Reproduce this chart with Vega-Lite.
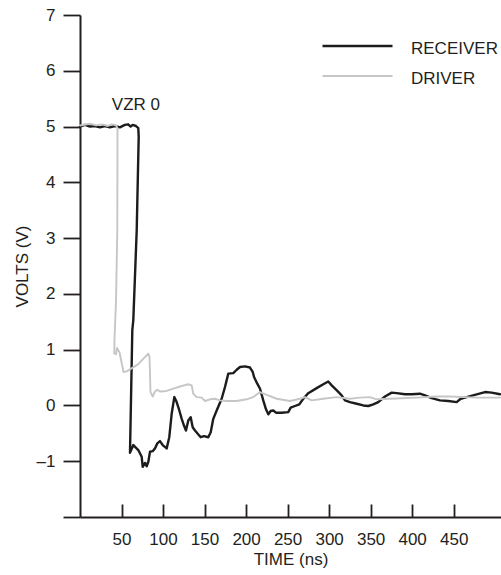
{
  "$schema": "https://vega.github.io/schema/vega-lite/v6.json",
  "autosize": "none",
  "width": 421,
  "height": 502,
  "padding": {"left": 80, "top": 15, "right": 0, "bottom": 58},
  "background": "white",
  "config": {
    "view": {"stroke": null},
    "font": "Liberation Sans",
    "axis": {"labelFont": "Liberation Sans", "titleFont": "Liberation Sans", "labelFontSize": 17, "titleFontSize": 17, "titleFontWeight": "normal", "labelColor": "#231f20", "titleColor": "#231f20", "domainColor": "#231f20", "tickColor": "#231f20", "grid": false}
  },
  "datasets": {
    "curves": [
      {"i": 1, "series": "RECEIVER", "t": 0, "v": 5.0},
      {"i": 2, "series": "RECEIVER", "t": 6, "v": 5.03},
      {"i": 3, "series": "RECEIVER", "t": 12, "v": 5.0},
      {"i": 4, "series": "RECEIVER", "t": 18, "v": 5.01},
      {"i": 5, "series": "RECEIVER", "t": 24, "v": 4.985},
      {"i": 6, "series": "RECEIVER", "t": 30, "v": 5.01},
      {"i": 7, "series": "RECEIVER", "t": 36, "v": 4.985},
      {"i": 8, "series": "RECEIVER", "t": 42, "v": 5.01},
      {"i": 9, "series": "RECEIVER", "t": 48, "v": 4.985},
      {"i": 10, "series": "RECEIVER", "t": 54, "v": 5.03},
      {"i": 11, "series": "RECEIVER", "t": 58, "v": 5.04},
      {"i": 12, "series": "RECEIVER", "t": 61, "v": 5.0},
      {"i": 13, "series": "RECEIVER", "t": 63.5, "v": 5.03},
      {"i": 14, "series": "RECEIVER", "t": 67.4, "v": 5.01},
      {"i": 15, "series": "RECEIVER", "t": 70.2, "v": 4.97},
      {"i": 16, "series": "RECEIVER", "t": 70.7, "v": 4.82},
      {"i": 17, "series": "RECEIVER", "t": 68.3, "v": 3.14},
      {"i": 18, "series": "RECEIVER", "t": 64.2, "v": 1.53},
      {"i": 19, "series": "RECEIVER", "t": 63.0, "v": 1.35},
      {"i": 20, "series": "RECEIVER", "t": 60.2, "v": -0.85},
      {"i": 21, "series": "RECEIVER", "t": 64.2, "v": -0.71},
      {"i": 22, "series": "RECEIVER", "t": 70.2, "v": -0.8},
      {"i": 23, "series": "RECEIVER", "t": 74.3, "v": -0.92},
      {"i": 24, "series": "RECEIVER", "t": 75.5, "v": -1.1},
      {"i": 25, "series": "RECEIVER", "t": 78.3, "v": -1.03},
      {"i": 26, "series": "RECEIVER", "t": 80.3, "v": -1.09},
      {"i": 27, "series": "RECEIVER", "t": 82.3, "v": -1.01},
      {"i": 28, "series": "RECEIVER", "t": 84.3, "v": -0.83},
      {"i": 29, "series": "RECEIVER", "t": 87.5, "v": -0.82},
      {"i": 30, "series": "RECEIVER", "t": 90.3, "v": -0.77},
      {"i": 31, "series": "RECEIVER", "t": 93.1, "v": -0.68},
      {"i": 32, "series": "RECEIVER", "t": 96.3, "v": -0.64},
      {"i": 33, "series": "RECEIVER", "t": 99.6, "v": -0.71},
      {"i": 34, "series": "RECEIVER", "t": 104.4, "v": -0.77},
      {"i": 35, "series": "RECEIVER", "t": 107.5, "v": -0.57},
      {"i": 36, "series": "RECEIVER", "t": 110.4, "v": -0.15},
      {"i": 37, "series": "RECEIVER", "t": 113.6, "v": 0.15},
      {"i": 38, "series": "RECEIVER", "t": 116.4, "v": 0.06},
      {"i": 39, "series": "RECEIVER", "t": 119.6, "v": -0.09},
      {"i": 40, "series": "RECEIVER", "t": 122.5, "v": -0.24},
      {"i": 41, "series": "RECEIVER", "t": 125.2, "v": -0.36},
      {"i": 42, "series": "RECEIVER", "t": 127.6, "v": -0.45},
      {"i": 43, "series": "RECEIVER", "t": 130.4, "v": -0.27},
      {"i": 44, "series": "RECEIVER", "t": 133.3, "v": -0.21},
      {"i": 45, "series": "RECEIVER", "t": 135.7, "v": -0.39},
      {"i": 46, "series": "RECEIVER", "t": 138.5, "v": -0.45},
      {"i": 47, "series": "RECEIVER", "t": 142.5, "v": -0.52},
      {"i": 48, "series": "RECEIVER", "t": 145.4, "v": -0.57},
      {"i": 49, "series": "RECEIVER", "t": 149.3, "v": -0.55},
      {"i": 50, "series": "RECEIVER", "t": 154.5, "v": -0.57},
      {"i": 51, "series": "RECEIVER", "t": 157.4, "v": -0.48},
      {"i": 52, "series": "RECEIVER", "t": 160.5, "v": -0.24},
      {"i": 53, "series": "RECEIVER", "t": 164.6, "v": -0.09},
      {"i": 54, "series": "RECEIVER", "t": 170.6, "v": 0.12},
      {"i": 55, "series": "RECEIVER", "t": 174.6, "v": 0.33},
      {"i": 56, "series": "RECEIVER", "t": 178.6, "v": 0.57},
      {"i": 57, "series": "RECEIVER", "t": 184.6, "v": 0.58},
      {"i": 58, "series": "RECEIVER", "t": 188.7, "v": 0.64},
      {"i": 59, "series": "RECEIVER", "t": 192.7, "v": 0.69},
      {"i": 60, "series": "RECEIVER", "t": 198.7, "v": 0.7},
      {"i": 61, "series": "RECEIVER", "t": 204.7, "v": 0.68},
      {"i": 62, "series": "RECEIVER", "t": 208.0, "v": 0.6},
      {"i": 63, "series": "RECEIVER", "t": 209.6, "v": 0.51},
      {"i": 64, "series": "RECEIVER", "t": 213.5, "v": 0.39},
      {"i": 65, "series": "RECEIVER", "t": 216.8, "v": 0.3},
      {"i": 66, "series": "RECEIVER", "t": 220.7, "v": 0.09},
      {"i": 67, "series": "RECEIVER", "t": 224.0, "v": -0.07},
      {"i": 68, "series": "RECEIVER", "t": 226.8, "v": -0.16},
      {"i": 69, "series": "RECEIVER", "t": 229.6, "v": -0.1},
      {"i": 70, "series": "RECEIVER", "t": 232.8, "v": -0.09},
      {"i": 71, "series": "RECEIVER", "t": 236.0, "v": -0.13},
      {"i": 72, "series": "RECEIVER", "t": 242.9, "v": -0.13},
      {"i": 73, "series": "RECEIVER", "t": 250.8, "v": -0.12},
      {"i": 74, "series": "RECEIVER", "t": 253.7, "v": -0.04},
      {"i": 75, "series": "RECEIVER", "t": 258.9, "v": -0.01},
      {"i": 76, "series": "RECEIVER", "t": 264.1, "v": 0.02},
      {"i": 77, "series": "RECEIVER", "t": 268.9, "v": 0.12},
      {"i": 78, "series": "RECEIVER", "t": 274.9, "v": 0.22},
      {"i": 79, "series": "RECEIVER", "t": 285.0, "v": 0.31},
      {"i": 80, "series": "RECEIVER", "t": 293.0, "v": 0.38},
      {"i": 81, "series": "RECEIVER", "t": 299.0, "v": 0.43},
      {"i": 82, "series": "RECEIVER", "t": 303.1, "v": 0.36},
      {"i": 83, "series": "RECEIVER", "t": 309.9, "v": 0.26},
      {"i": 84, "series": "RECEIVER", "t": 315.1, "v": 0.18},
      {"i": 85, "series": "RECEIVER", "t": 319.1, "v": 0.09},
      {"i": 86, "series": "RECEIVER", "t": 325.1, "v": 0.06},
      {"i": 87, "series": "RECEIVER", "t": 333.2, "v": 0.03},
      {"i": 88, "series": "RECEIVER", "t": 341.2, "v": 0.0},
      {"i": 89, "series": "RECEIVER", "t": 347.2, "v": -0.01},
      {"i": 90, "series": "RECEIVER", "t": 353.2, "v": 0.02},
      {"i": 91, "series": "RECEIVER", "t": 359.2, "v": 0.06},
      {"i": 92, "series": "RECEIVER", "t": 367.3, "v": 0.16},
      {"i": 93, "series": "RECEIVER", "t": 375.4, "v": 0.23},
      {"i": 94, "series": "RECEIVER", "t": 381.4, "v": 0.22},
      {"i": 95, "series": "RECEIVER", "t": 391.4, "v": 0.2},
      {"i": 96, "series": "RECEIVER", "t": 399.4, "v": 0.2},
      {"i": 97, "series": "RECEIVER", "t": 409.4, "v": 0.21},
      {"i": 98, "series": "RECEIVER", "t": 415.5, "v": 0.18},
      {"i": 99, "series": "RECEIVER", "t": 423.5, "v": 0.13},
      {"i": 100, "series": "RECEIVER", "t": 433.5, "v": 0.09},
      {"i": 101, "series": "RECEIVER", "t": 443.5, "v": 0.08},
      {"i": 102, "series": "RECEIVER", "t": 453.6, "v": 0.06},
      {"i": 103, "series": "RECEIVER", "t": 458.5, "v": 0.12},
      {"i": 104, "series": "RECEIVER", "t": 465.7, "v": 0.15},
      {"i": 105, "series": "RECEIVER", "t": 477.7, "v": 0.2},
      {"i": 106, "series": "RECEIVER", "t": 487.7, "v": 0.24},
      {"i": 107, "series": "RECEIVER", "t": 495.8, "v": 0.23},
      {"i": 108, "series": "RECEIVER", "t": 505.8, "v": 0.2},
      {"i": 201, "series": "DRIVER", "t": 0, "v": 5.02},
      {"i": 202, "series": "DRIVER", "t": 12, "v": 5.05},
      {"i": 203, "series": "DRIVER", "t": 19.3, "v": 5.02},
      {"i": 204, "series": "DRIVER", "t": 26.5, "v": 5.04},
      {"i": 205, "series": "DRIVER", "t": 33.7, "v": 5.01},
      {"i": 206, "series": "DRIVER", "t": 38.5, "v": 5.04},
      {"i": 207, "series": "DRIVER", "t": 43.4, "v": 5.02},
      {"i": 208, "series": "DRIVER", "t": 45.2, "v": 4.97},
      {"i": 209, "series": "DRIVER", "t": 44.9, "v": 3.14},
      {"i": 210, "series": "DRIVER", "t": 43.4, "v": 1.89},
      {"i": 211, "series": "DRIVER", "t": 41.5, "v": 1.17},
      {"i": 212, "series": "DRIVER", "t": 41.3, "v": 0.93},
      {"i": 213, "series": "DRIVER", "t": 43.4, "v": 0.92},
      {"i": 214, "series": "DRIVER", "t": 44.6, "v": 1.03},
      {"i": 215, "series": "DRIVER", "t": 47.6, "v": 0.95},
      {"i": 216, "series": "DRIVER", "t": 52.4, "v": 0.6},
      {"i": 217, "series": "DRIVER", "t": 56.2, "v": 0.61},
      {"i": 218, "series": "DRIVER", "t": 70.2, "v": 0.74},
      {"i": 219, "series": "DRIVER", "t": 82.2, "v": 0.93},
      {"i": 220, "series": "DRIVER", "t": 83.7, "v": 0.88},
      {"i": 221, "series": "DRIVER", "t": 84.9, "v": 0.24},
      {"i": 222, "series": "DRIVER", "t": 87.5, "v": 0.16},
      {"i": 223, "series": "DRIVER", "t": 90.3, "v": 0.25},
      {"i": 224, "series": "DRIVER", "t": 93.1, "v": 0.28},
      {"i": 225, "series": "DRIVER", "t": 96.3, "v": 0.25},
      {"i": 226, "series": "DRIVER", "t": 104.4, "v": 0.26},
      {"i": 227, "series": "DRIVER", "t": 112.4, "v": 0.3},
      {"i": 228, "series": "DRIVER", "t": 120.4, "v": 0.34},
      {"i": 229, "series": "DRIVER", "t": 130.4, "v": 0.38},
      {"i": 230, "series": "DRIVER", "t": 134.5, "v": 0.36},
      {"i": 231, "series": "DRIVER", "t": 136.4, "v": 0.21},
      {"i": 232, "series": "DRIVER", "t": 140.5, "v": 0.15},
      {"i": 233, "series": "DRIVER", "t": 146.6, "v": 0.14},
      {"i": 234, "series": "DRIVER", "t": 150.5, "v": 0.08},
      {"i": 235, "series": "DRIVER", "t": 156.6, "v": 0.11},
      {"i": 236, "series": "DRIVER", "t": 162.6, "v": 0.12},
      {"i": 237, "series": "DRIVER", "t": 168.6, "v": 0.09},
      {"i": 238, "series": "DRIVER", "t": 176.7, "v": 0.08},
      {"i": 239, "series": "DRIVER", "t": 188.7, "v": 0.08},
      {"i": 240, "series": "DRIVER", "t": 200.7, "v": 0.11},
      {"i": 241, "series": "DRIVER", "t": 208.7, "v": 0.15},
      {"i": 242, "series": "DRIVER", "t": 216.8, "v": 0.24},
      {"i": 243, "series": "DRIVER", "t": 224.8, "v": 0.19},
      {"i": 244, "series": "DRIVER", "t": 236.9, "v": 0.12},
      {"i": 245, "series": "DRIVER", "t": 252.9, "v": 0.08},
      {"i": 246, "series": "DRIVER", "t": 264.9, "v": 0.12},
      {"i": 247, "series": "DRIVER", "t": 270.9, "v": 0.15},
      {"i": 248, "series": "DRIVER", "t": 279.0, "v": 0.09},
      {"i": 249, "series": "DRIVER", "t": 293.0, "v": 0.12},
      {"i": 250, "series": "DRIVER", "t": 309.1, "v": 0.15},
      {"i": 251, "series": "DRIVER", "t": 325.1, "v": 0.12},
      {"i": 252, "series": "DRIVER", "t": 337.2, "v": 0.14},
      {"i": 253, "series": "DRIVER", "t": 349.2, "v": 0.15},
      {"i": 254, "series": "DRIVER", "t": 357.3, "v": 0.11},
      {"i": 255, "series": "DRIVER", "t": 373.3, "v": 0.12},
      {"i": 256, "series": "DRIVER", "t": 405.5, "v": 0.14},
      {"i": 257, "series": "DRIVER", "t": 429.6, "v": 0.16},
      {"i": 258, "series": "DRIVER", "t": 445.6, "v": 0.16},
      {"i": 259, "series": "DRIVER", "t": 477.7, "v": 0.14},
      {"i": 260, "series": "DRIVER", "t": 505.8, "v": 0.14}
    ],
    "notes": [
      {"t": 67.4, "v": 5.38, "label": "VZR 0"}
    ]
  },
  "layer": [
    {
      "data": {"name": "curves"},
      "mark": {"type": "line", "strokeCap": "round", "strokeJoin": "round", "clip": false},
      "encoding": {
        "x": {
          "field": "t", "type": "quantitative",
          "scale": {"domain": [0, 507], "nice": false, "zero": false},
          "axis": {"values": [50, 100, 150, 200, 250, 300, 350, 400, 450], "title": "TIME (ns)", "tickSize": -13, "tickWidth": 1.8, "domainWidth": 2, "labelPadding": 27, "titlePadding": 4, "labelFlush": false}
        },
        "y": {
          "field": "v", "type": "quantitative",
          "scale": {"domain": [-2, 7], "nice": false, "zero": false},
          "axis": {"values": [-2, -1, 0, 1, 2, 3, 4, 5, 6, 7], "title": "VOLTS (V)", "tickSize": 17, "tickWidth": 1.8, "domainWidth": 2, "labelPadding": 8, "titlePadding": 5, "labelExpr": "datum.value == -2 ? '' : (datum.value < 0 ? '–' + abs(datum.value) : '' + datum.value)", "labelFlush": false}
        },
        "color": {
          "field": "series", "type": "nominal",
          "scale": {"domain": ["RECEIVER", "DRIVER"], "range": ["#1c1c1c", "#c6c6c6"]},
          "legend": {"orient": "none", "legendX": 241, "legendY": 16, "title": null, "symbolType": "stroke", "symbolSize": 4900, "symbolStrokeWidth": 2.5, "clipHeight": 30, "rowPadding": 0, "labelFontSize": 17, "labelFont": "Liberation Sans", "labelColor": "#231f20", "labelOffset": 17, "labelBaseline": "middle", "padding": 0, "encode": {"labels": {"update": {"dy": {"value": 3}}}}}
        },
        "strokeWidth": {
          "field": "series", "type": "nominal",
          "scale": {"domain": ["RECEIVER", "DRIVER"], "range": [2.4, 1.9]},
          "legend": null
        },
        "order": {"field": "i", "type": "quantitative"}
      }
    },
    {
      "mark": {"type": "rule", "color": "#231f20", "strokeWidth": 1.3},
      "encoding": {"y": {"datum": 7}}
    },
    {
      "data": {"name": "notes"},
      "mark": {"type": "text", "fontSize": 17, "font": "Liberation Sans", "color": "#231f20", "align": "center", "baseline": "middle"},
      "encoding": {
        "x": {"field": "t", "type": "quantitative"},
        "y": {"field": "v", "type": "quantitative"},
        "text": {"field": "label"}
      }
    }
  ]
}
